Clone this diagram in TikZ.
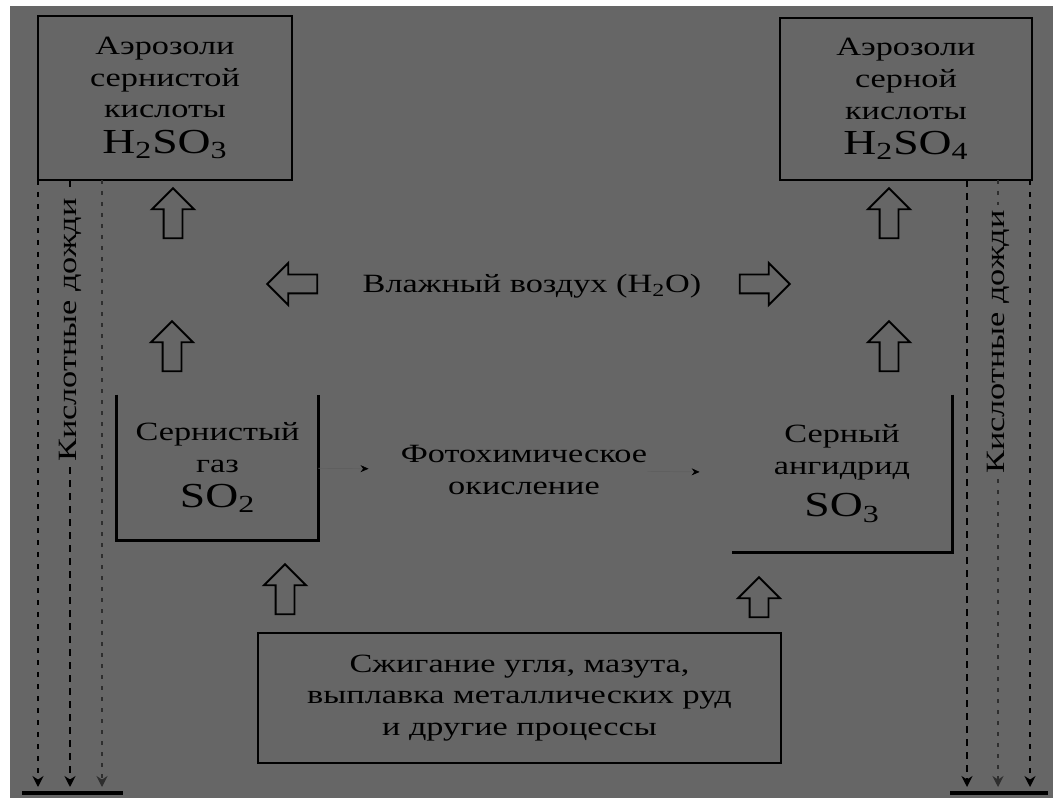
\documentclass[tikz,border=0pt]{standalone}
\usepackage{fontspec}
\setmainfont[FakeStretch=1.3]{Liberation Serif}
\usetikzlibrary{shapes.arrows,arrows.meta}
\definecolor{bggray}{RGB}{102,102,102}
\newcommand{\pix}{0.2mm}

\begin{document}
\begin{tikzpicture}[x=0.2mm,y=-0.2mm,>={Stealth[length=2.2mm,width=2.2mm]},
    box/.style={align=center,inner sep=0pt,font=\fontsize{15}{18}\selectfont},
    frame/.style={box,draw,line width=1.4pt},
    upar/.style={single arrow,draw,line width=1.1pt,shape border rotate=90,inner sep=8.5*\pix,
        single arrow head extend=11.5*\pix,minimum height=50*\pix},
    rain/.style={box,rotate=90,fill=bggray,inner sep=3pt},
    heavy/.style={line width=1.3pt,dash pattern=on 1.4mm off 1.2mm},
    faint/.style={line width=0.8pt,dash pattern=on 0.8mm off 1.4mm,draw=black!55!bggray}]

  % background
  \fill[white] (0,0) rectangle (1053,798);
  \fill[bggray] (10,6) rectangle (1053,798);

  % boxes
  \node[frame,minimum width=254*\pix,minimum height=164*\pix] (aerL) at (165,98)
    {Аэрозоли\\сернистой\\кислоты\\[2pt]{\fontsize{20}{24}\selectfont H\textsubscript{2}SO\textsubscript{3}}};
  \node[frame,minimum width=252*\pix,minimum height=162*\pix] (aerR) at (906,99)
    {Аэрозоли\\серной\\кислоты\\[2pt]{\fontsize{20}{24}\selectfont H\textsubscript{2}SO\textsubscript{4}}};
  \node[box,minimum width=201*\pix,minimum height=145*\pix] (so2) at (217.5,467.5)
    {Сернистый\\газ\\[2pt]{\fontsize{20}{24}\selectfont SO\textsubscript{2}}};
  \node[box,minimum width=220*\pix,minimum height=157*\pix] (so3) at (842,473.5)
    {Серный\\ангидрид\\[6pt]{\fontsize{20}{24}\selectfont SO\textsubscript{3}}};
  \node[frame,minimum width=523*\pix,minimum height=130*\pix] (fuel) at (519.5,698)
    {Сжигание угля, мазута,\\выплавка металлических руд\\и другие процессы};
  \node[box] (moist) at (532,286) {Влажный воздух (H\textsubscript{2}O)};
  \node[box] (photo) at (524,470) {Фотохимическое\\окисление};

  % open sides of the middle boxes
  \draw[line width=1.4pt] (so2.north west) -- (so2.south west) -- (so2.south east) -- (so2.north east);
  \draw[line width=1.8pt] (so3.north east) -- (so3.south east) -- (so3.south west);

  % hollow arrows
  \node[upar] (uL1) at (173,218) {};
  \node[upar] (uL2) at (172,351) {};
  \node[upar] (uR1) at (889,218) {};
  \node[upar] (uR2) at (889,351) {};
  \node[upar] (uB1) at (285,594) {};
  \node[upar,minimum height=40*\pix] (uB2) at (759,602) {};
  \node[upar,shape border rotate=180] (lA) at (297,284) {};
  \node[upar,shape border rotate=0] (rA) at (760,284) {};

  \path[draw=bggray!93!black,thin,-{Stealth[length=1.6mm,width=1.4mm,black]},shorten >=32*\pix]
    (so2) edge (photo)
    (photo) edge (so3);

  % acid rain
  \node[rain] (rainL) at (70,330) {Кислотные дожди};
  \node[rain] (rainR) at (998,342) {Кислотные дожди};

  \coordinate (tL1) at (38,180);  \coordinate (gL1) at (38,787);
  \coordinate (tL2) at (70,180);  \coordinate (gL2) at (70,787);
  \coordinate (tL3) at (102,180); \coordinate (gL3) at (102,787);
  \coordinate (tR1) at (967,180); \coordinate (gR1) at (967,787);
  \coordinate (tR2) at (998,180); \coordinate (gR2) at (998,787);
  \coordinate (tR3) at (1030,180);\coordinate (gR3) at (1030,787);
  \coordinate (groundL1) at (22,793);  \coordinate (groundL2) at (123,793);
  \coordinate (groundR1) at (950,793); \coordinate (groundR2) at (1048,793);

  \draw[->,line width=0.9pt,dash pattern=on 1mm off 1.4mm] (tL1) -- (gL1);
  \draw[heavy] (tL2) -- (rainL.east);
  \draw[->,heavy] (rainL.west) -- (gL2);
  \draw[->,faint] (tL3) -- (gL3);
  \draw[->,heavy] (tR1) -- (gR1);
  \draw[faint] (tR2) -- (rainR.east);
  \draw[->,faint] (rainR.west) -- (gR2);
  \draw[->,line width=0.9pt,dash pattern=on 1mm off 1.4mm] (tR3) -- (gR3);

  \draw[line width=2.2pt] (groundL1) -- (groundL2);
  \draw[line width=2.2pt] (groundR1) -- (groundR2);
\end{tikzpicture}
\end{document}
